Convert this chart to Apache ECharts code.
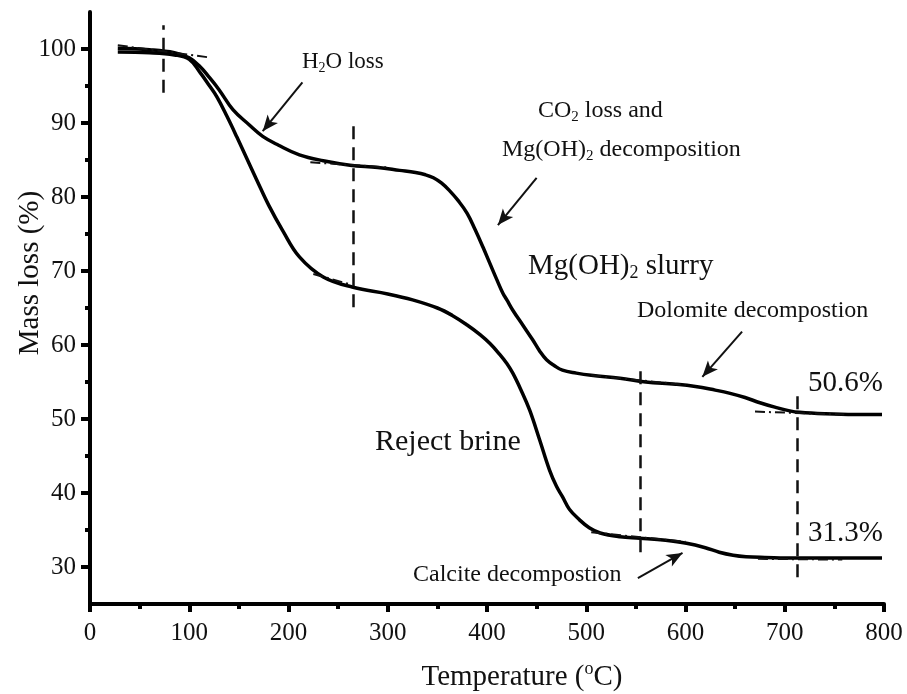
<!DOCTYPE html>
<html>
<head>
<meta charset="utf-8">
<script src="https://cdn.jsdelivr.net/npm/echarts@6/dist/echarts.min.js"></script>
<style>
  html, body { margin: 0; padding: 0; background: #fff; }
  #chart { width: 907px; height: 694px; }
</style>
</head>
<body>
<div id="chart"></div>
<script>
// TGA curves
const slurryTemp = [28, 60, 85, 100, 111, 120, 130, 144, 160, 174, 190, 211, 235, 262, 290, 312, 328, 338, 346, 354, 362, 371, 380, 388, 396, 403, 410, 416, 420, 426, 436, 446, 453, 460, 468, 476, 490, 505, 534, 560, 590, 610, 630, 644, 660, 675, 690, 705, 715, 740, 770, 798];
const slurryMass = [100.1, 99.9, 99.5, 98.8, 97.6, 96.2, 94.5, 91.8, 89.8, 88.2, 87.0, 85.7, 84.9, 84.3, 84.0, 83.6, 83.3, 83.0, 82.6, 81.9, 80.9, 79.5, 77.8, 75.6, 73.2, 71.0, 68.8, 67.0, 66.1, 64.7, 62.7, 60.7, 59.2, 58.0, 57.2, 56.6, 56.2, 55.9, 55.5, 55.0, 54.7, 54.4, 53.9, 53.5, 52.9, 52.2, 51.6, 51.1, 50.9, 50.7, 50.6, 50.6];

const brineTemp = [28, 60, 85, 100, 111, 120, 128, 138, 148, 158, 168, 180, 194, 211, 235, 265, 300, 325, 350, 365, 380, 393, 403, 413, 420, 426, 434, 443, 453, 463, 470, 476, 483, 493, 503, 514, 534, 554, 580, 601, 620, 634, 648, 661, 680, 712, 760, 798];
const brineMass = [99.6, 99.5, 99.2, 98.6, 96.8, 95.1, 93.5, 90.9, 88.1, 85.2, 82.3, 78.9, 75.5, 71.9, 69.2, 67.8, 66.9, 66.1, 65.0, 64.0, 62.7, 61.4, 60.2, 58.7, 57.5, 56.2, 54.0, 51.2, 47.2, 43.1, 40.9, 39.5, 37.8, 36.4, 35.3, 34.6, 34.1, 33.9, 33.6, 33.2, 32.6, 32.0, 31.6, 31.4, 31.3, 31.2, 31.2, 31.2];

const xTicks = [0, 100, 200, 300, 400, 500, 600, 700, 800];
const yMajor = [30, 40, 50, 60, 70, 80, 90, 100];
const yMinor = [35, 45, 55, 65, 75, 85, 95];

// vertical dashed onset markers: [temperature, from, to]
const onsetLines = [[74, 94.1, 103.2], [265, 65.1, 89.7], [554, 32.0, 56.6], [713, 28.6, 53.5]];
// tangent construction lines (dash-dot)
const tangents = [
  [[28, 100.5], [118, 98.9]],
  [[222, 84.7], [300, 84.0]],
  [[225, 69.6], [262, 68.2]],
  [[505, 55.9], [600, 54.6]],
  [[670, 51.0], [760, 50.6]],
  [[505, 34.7], [600, 33.4]],
  [[673, 31.1], [758, 31.0]]
];
// annotation arrows: [from, to]
const arrows = [
  [[214, 95.5], [174, 88.9]],
  [[450, 82.6], [411, 76.2]],
  [[657, 61.8], [617, 55.7]],
  [[552, 28.5], [597, 31.9]]
];

const FONT = "'Liberation Serif', 'Times New Roman', serif";
const chart = echarts.init(document.getElementById("chart"));

function zip(xs, ys) {
  return xs.map((x, i) => [x, ys[i]]);
}

function txt(x, y, text, size, rot) {
  return {
    type: "text",
    x: x,
    y: y,
    rotation: rot || 0,
    style: {
      text: text,
      fill: "#111",
      font: size + "px " + FONT,
      textAlign: rot ? "center" : "left",
      textVerticalAlign: "middle",
      rich: {
        n: { fontSize: size, fontFamily: FONT, lineHeight: size + 4, fill: "#111" },
        s: { fontSize: Math.round(size * 0.62), fontFamily: FONT, lineHeight: Math.round(size * 0.55), verticalAlign: "bottom", fill: "#111" },
        p: { fontSize: Math.round(size * 0.62), fontFamily: FONT, lineHeight: Math.round(size * 0.55), verticalAlign: "top", fill: "#111" }
      }
    }
  };
}

const markLines = [];
onsetLines.forEach(l => {
  markLines.push([
    { coord: [l[0], l[1]], lineStyle: { type: [13, 8], width: 2.5, color: "#111" } },
    { coord: [l[0], l[2]] }
  ]);
});
tangents.forEach(t => {
  markLines.push([
    { coord: t[0], lineStyle: { type: [10, 4, 2, 4], width: 2, color: "#111" } },
    { coord: t[1] }
  ]);
});
arrows.forEach(a => {
  markLines.push([
    { coord: a[0], symbol: "none", lineStyle: { type: "solid", width: 2, color: "#111" } },
    { coord: a[1], symbol: "arrow", symbolSize: [10, 16] }
  ]);
});

chart.setOption({
  backgroundColor: "#fff",
  animation: false,
  grid: { left: 90, top: 12, width: 794, height: 592 },
  xAxis: {
    type: "value",
    min: 0,
    max: 800,
    interval: 100,
    axisLine: { lineStyle: { color: "#000", width: 4 } },
    axisTick: { show: true, length: 8, lineStyle: { color: "#000", width: 4 } },
    minorTick: { show: true, splitNumber: 2, length: 5, lineStyle: { color: "#000", width: 4 } },
    splitLine: { show: false },
    axisLabel: { customValues: xTicks, margin: 17, fontSize: 25, fontFamily: FONT, color: "#111" }
  },
  yAxis: [
    {
      type: "value",
      min: 25,
      max: 105,
      axisLine: { show: true, lineStyle: { color: "#000", width: 4 } },
      axisTick: { show: true, customValues: yMajor, length: 9, lineStyle: { color: "#000", width: 4 } },
      splitLine: { show: false },
      axisLabel: { customValues: yMajor, margin: 14, fontSize: 25, fontFamily: FONT, color: "#111" }
    },
    {
      type: "value",
      min: 25,
      max: 105,
      position: "left",
      axisLine: { show: false },
      axisTick: { show: true, customValues: yMinor, length: 5, lineStyle: { color: "#000", width: 4 } },
      splitLine: { show: false },
      axisLabel: { show: false }
    }
  ],
  series: [
    {
      name: "Mg(OH)2 slurry",
      type: "line",
      data: zip(slurryTemp, slurryMass),
      smooth: 0.4,
      showSymbol: false,
      lineStyle: { color: "#000", width: 3.5 },
      markLine: { silent: true, symbol: "none", label: { show: false }, data: markLines }
    },
    {
      name: "Reject brine",
      type: "line",
      data: zip(brineTemp, brineMass),
      smooth: 0.4,
      showSymbol: false,
      lineStyle: { color: "#000", width: 3.5 }
    }
  ],
  graphic: [
    txt(30, 273, "Mass loss (%)", 29, Math.PI / 2),
    { type: "text", x: 522, y: 677, style: { text: "{n|Temperature (}{p|o}{n|C)}", textAlign: "center", textVerticalAlign: "middle", fill: "#111", font: "29px " + FONT,
      rich: {
        n: { fontSize: 29, fontFamily: FONT, lineHeight: 33, fill: "#111" },
        p: { fontSize: 18, fontFamily: FONT, lineHeight: 16, verticalAlign: "top", fill: "#111" }
      } } },
    txt(302, 62, "{n|H}{s|2}{n|O loss}", 23),
    txt(538, 111, "{n|CO}{s|2}{n| loss and}", 24),
    txt(502, 150, "{n|Mg(OH)}{s|2}{n| decomposition}", 24),
    txt(528, 266, "{n|Mg(OH)}{s|2}{n| slurry}", 29),
    txt(637, 311, "{n|Dolomite decompostion}", 24),
    txt(808, 383, "{n|50.6%}", 29),
    txt(375, 442, "{n|Reject brine}", 30),
    txt(808, 533, "{n|31.3%}", 29),
    txt(413, 575, "{n|Calcite decompostion}", 24)
  ]
});
</script>
</body>
</html>
